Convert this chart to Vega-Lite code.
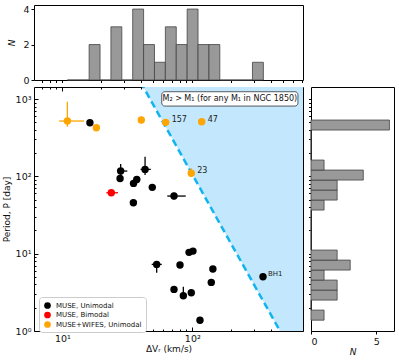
{
  "$schema": "https://vega.github.io/schema/vega-lite/v6.json",
  "padding": {"left": 1, "top": 3, "right": 0, "bottom": 0},
  "config": {
    "font": "DejaVu Sans",
    "view": {"stroke": "black", "strokeWidth": 1},
    "axis": {"grid": false, "domain": false, "tickColor": "black", "labelColor": "#111111", "titleColor": "#111111", "titleFontWeight": "normal", "labelFontSize": 9.5, "titleFontSize": 9}
  },
  "datasets": {
    "pts": [
      {"v": 16.3, "p": 493, "g": "MUSE, Unimodal"},
      {"v": 28.1, "p": 117, "g": "MUSE, Unimodal"},
      {"v": 27.8, "p": 94, "g": "MUSE, Unimodal"},
      {"v": 35.2, "p": 45.5, "g": "MUSE, Unimodal"},
      {"v": 35.3, "p": 81.1, "g": "MUSE, Unimodal"},
      {"v": 37.4, "p": 91, "g": "MUSE, Unimodal"},
      {"v": 43.3, "p": 123, "g": "MUSE, Unimodal"},
      {"v": 49.2, "p": 72, "g": "MUSE, Unimodal"},
      {"v": 72.3, "p": 55.6, "g": "MUSE, Unimodal"},
      {"v": 53.2, "p": 7.27, "g": "MUSE, Unimodal"},
      {"v": 80.4, "p": 7.13, "g": "MUSE, Unimodal"},
      {"v": 94.4, "p": 10.4, "g": "MUSE, Unimodal"},
      {"v": 101.2, "p": 10.8, "g": "MUSE, Unimodal"},
      {"v": 144, "p": 6.32, "g": "MUSE, Unimodal"},
      {"v": 140, "p": 4.25, "g": "MUSE, Unimodal"},
      {"v": 72.3, "p": 3.45, "g": "MUSE, Unimodal"},
      {"v": 85.3, "p": 2.85, "g": "MUSE, Unimodal"},
      {"v": 98.2, "p": 3.12, "g": "MUSE, Unimodal"},
      {"v": 114.6, "p": 1.38, "g": "MUSE, Unimodal"},
      {"v": 350, "p": 5.03, "g": "MUSE, Unimodal"},
      {"v": 23.8, "p": 61.4, "g": "MUSE, Bimodal"},
      {"v": 10.93, "p": 519, "g": "MUSE+WIFES, Unimodal"},
      {"v": 18.26, "p": 425, "g": "MUSE+WIFES, Unimodal"},
      {"v": 40.5, "p": 535, "g": "MUSE+WIFES, Unimodal"},
      {"v": 62.4, "p": 499, "g": "MUSE+WIFES, Unimodal"},
      {"v": 118, "p": 508, "g": "MUSE+WIFES, Unimodal"},
      {"v": 98.2, "p": 109.4, "g": "MUSE+WIFES, Unimodal"}
    ],
    "errs": [
      {"v": 28.1, "p": 117, "vlo": 26.5, "vhi": 31.6, "plo": 98.9, "phi": 144, "g": "MUSE, Unimodal"},
      {"v": 23.8, "p": 61.4, "vlo": 21.8, "vhi": 26.8, "plo": null, "phi": null, "g": "MUSE, Bimodal"},
      {"v": 43.3, "p": 123, "vlo": 40, "vhi": 47.9, "plo": 104, "phi": 179, "g": "MUSE, Unimodal"},
      {"v": 72.3, "p": 55.6, "vlo": 64.2, "vhi": 89, "plo": 50.3, "phi": 61.4, "g": "MUSE, Unimodal"},
      {"v": 53.2, "p": 7.27, "vlo": 48.7, "vhi": 58.2, "plo": 5.66, "phi": 7.85, "g": "MUSE, Unimodal"},
      {"v": 85.3, "p": 2.85, "vlo": null, "vhi": null, "plo": 2.77, "phi": 3.73, "g": "MUSE, Unimodal"},
      {"v": 10.93, "p": 519, "vlo": 9.44, "vhi": 14.7, "plo": 438, "phi": 923, "g": "MUSE+WIFES, Unimodal"},
      {"v": 98.2, "p": 109.4, "vlo": null, "vhi": null, "plo": 98, "phi": 127, "g": "MUSE+WIFES, Unimodal"}
    ],
    "labs": [
      {"v": 62.4, "p": 499, "label": "157"},
      {"v": 118, "p": 508, "label": "47"},
      {"v": 98.2, "p": 109.4, "label": "23"},
      {"v": 350, "p": 5.03, "label": "BH1"}
    ],
    "region": [
      {"v": 40, "p": 1653, "top": 2000},
      {"v": 500, "p": 0.846, "top": 2000},
      {"v": 800, "p": 0.846, "top": 2000}
    ],
    "edge": [
      {"v": 40, "p": 1653},
      {"v": 500, "p": 0.846}
    ],
    "box": [
      {"v1": 58.2, "v2": 650, "p1": 811, "p2": 1242, "vc": 194.5, "pc": 1000, "text": "M₂ > M₁ (for any M₁ in NGC 1850)"}
    ],
    "hx": [
      {"lo": 10.93, "hi": 13.25, "n": 0},
      {"lo": 13.25, "hi": 16.07, "n": 0},
      {"lo": 16.07, "hi": 19.5, "n": 2},
      {"lo": 19.5, "hi": 23.64, "n": 0},
      {"lo": 23.64, "hi": 28.68, "n": 3},
      {"lo": 28.68, "hi": 34.78, "n": 0},
      {"lo": 34.78, "hi": 42.19, "n": 4},
      {"lo": 42.19, "hi": 51.17, "n": 2},
      {"lo": 51.17, "hi": 62.05, "n": 1},
      {"lo": 62.05, "hi": 75.25, "n": 3},
      {"lo": 75.25, "hi": 91.27, "n": 2},
      {"lo": 91.27, "hi": 110.7, "n": 4},
      {"lo": 110.7, "hi": 134.3, "n": 2},
      {"lo": 134.3, "hi": 162.8, "n": 2},
      {"lo": 162.8, "hi": 197.5, "n": 0},
      {"lo": 197.5, "hi": 239.5, "n": 0},
      {"lo": 239.5, "hi": 290.4, "n": 0},
      {"lo": 290.4, "hi": 352.3, "n": 1}
    ],
    "hy": [
      {"lo": 1.38, "hi": 1.864, "n": 1},
      {"lo": 1.864, "hi": 2.51, "n": 0},
      {"lo": 2.51, "hi": 3.381, "n": 2},
      {"lo": 3.381, "hi": 4.555, "n": 2},
      {"lo": 4.555, "hi": 6.135, "n": 1},
      {"lo": 6.135, "hi": 8.263, "n": 3},
      {"lo": 8.263, "hi": 11.13, "n": 2},
      {"lo": 11.13, "hi": 14.99, "n": 0},
      {"lo": 14.99, "hi": 20.19, "n": 0},
      {"lo": 20.19, "hi": 27.2, "n": 0},
      {"lo": 27.2, "hi": 36.64, "n": 0},
      {"lo": 36.64, "hi": 49.34, "n": 1},
      {"lo": 49.34, "hi": 66.46, "n": 2},
      {"lo": 66.46, "hi": 89.53, "n": 2},
      {"lo": 89.53, "hi": 120.6, "n": 4},
      {"lo": 120.6, "hi": 162.4, "n": 1},
      {"lo": 162.4, "hi": 218.8, "n": 0},
      {"lo": 218.8, "hi": 294.7, "n": 0},
      {"lo": 294.7, "hi": 396.9, "n": 0},
      {"lo": 396.9, "hi": 534.6, "n": 6}
    ]
  },
  "spacing": 7,
  "bounds": "flush",
  "resolve": {"scale": {"color": "independent", "stroke": "independent"}, "legend": {"color": "independent", "stroke": "independent"}},
  "vconcat": [
    {
      "width": 269,
      "height": 75,
      "data": {"name": "hx"},
      "mark": {"type": "rect", "fill": "#999999", "stroke": "#444444", "strokeWidth": 0.8},
      "encoding": {
        "x": {"field": "lo", "type": "quantitative", "scale": {"type": "log", "domain": [6.05, 711], "nice": false},
          "axis": {"values": [7, 8, 9, 10, 20, 30, 40, 50, 60, 70, 80, 90, 100, 200, 300, 400, 500, 600, 700], "labels": false, "tickSize": 2.5, "title": null}},
        "x2": {"field": "hi"},
        "y": {"field": "n", "type": "quantitative", "scale": {"domain": [0, 4.23], "nice": false},
          "axis": {"values": [0, 2, 4], "tickSize": 3, "labelPadding": 2, "title": "N", "titleFontStyle": "italic", "titlePadding": 6}},
        "y2": {"datum": 0}
      }
    },
    {
      "spacing": 8,
      "bounds": "flush",
      "resolve": {"scale": {"color": "independent", "stroke": "independent"}, "legend": {"color": "independent", "stroke": "independent"}},
      "hconcat": [
        {
          "width": 269,
          "height": 244,
          "resolve": {"axis": {"x": "independent", "y": "independent"}},
          "layer": [
            {
              "data": {"name": "region"},
              "mark": {"type": "area", "color": "#c3e7fc", "clip": true},
              "encoding": {
                "x": {"field": "v", "type": "quantitative", "scale": {"type": "log", "domain": [6.05, 711], "nice": false},
                  "axis": {"orient": "bottom", "values": [10, 100], "labelExpr": "datum.value == 10 ? '10¹' : '10²'", "tickSize": -4, "labelPadding": 6, "title": "ΔVᵣ (km/s)", "titlePadding": 2}},
                "y": {"field": "p", "type": "quantitative", "scale": {"type": "log", "domain": [1, 1430], "nice": false},
                  "axis": {"orient": "left", "values": [1, 10, 100, 1000], "labelExpr": "datum.value == 1 ? '10⁰' : datum.value == 10 ? '10¹' : datum.value == 100 ? '10²' : '10³'", "tickSize": -4, "labelPadding": 7, "title": "Period, P [day]", "titlePadding": 4}},
                "y2": {"field": "top"}
              }
            },
            {
              "data": {"name": "edge"},
              "mark": {"type": "line", "color": "#11b5ee", "strokeWidth": 2.5, "strokeDash": [7, 4], "clip": true},
              "encoding": {
                "x": {"field": "v", "type": "quantitative",
                  "axis": {"orient": "bottom", "values": [7, 8, 9, 20, 30, 40, 50, 60, 70, 80, 90, 200, 300, 400, 500, 600, 700], "labels": false, "tickSize": -2, "title": null}},
                "y": {"field": "p", "type": "quantitative",
                  "axis": {"orient": "left", "values": [2, 3, 4, 5, 6, 7, 8, 9, 20, 30, 40, 50, 60, 70, 80, 90, 200, 300, 400, 500, 600, 700, 800, 900], "labels": false, "tickSize": -2, "title": null}}
              }
            },
            {
              "data": {"name": "box"},
              "mark": {"type": "rect", "fill": "white", "stroke": "#333333", "strokeWidth": 0.8, "cornerRadius": 3},
              "encoding": {
                "x": {"field": "v1", "type": "quantitative",
                  "axis": {"orient": "top", "values": [10, 100], "labels": false, "tickSize": -4, "title": null}},
                "x2": {"field": "v2"},
                "y": {"field": "p1", "type": "quantitative",
                  "axis": {"orient": "right", "values": [1, 10, 100, 1000], "labels": false, "tickSize": -4, "title": null}},
                "y2": {"field": "p2"}
              }
            },
            {
              "data": {"name": "box"},
              "mark": {"type": "text", "fontSize": 8, "align": "center", "baseline": "middle", "color": "#111111"},
              "encoding": {
                "x": {"field": "vc", "type": "quantitative",
                  "axis": {"orient": "top", "values": [7, 8, 9, 20, 30, 40, 50, 60, 70, 80, 90, 200, 300, 400, 500, 600, 700], "labels": false, "tickSize": -2, "title": null}},
                "y": {"field": "pc", "type": "quantitative",
                  "axis": {"orient": "right", "values": [2, 3, 4, 5, 6, 7, 8, 9, 20, 30, 40, 50, 60, 70, 80, 90, 200, 300, 400, 500, 600, 700, 800, 900], "labels": false, "tickSize": -2, "title": null}},
                "text": {"field": "text"}
              }
            },
            {
              "data": {"name": "errs"},
              "transform": [{"filter": "isValid(datum.vlo)"}],
              "mark": {"type": "rule", "strokeWidth": 1.3},
              "encoding": {
                "x": {"field": "vlo", "type": "quantitative", "axis": null},
                "x2": {"field": "vhi"},
                "y": {"field": "p", "type": "quantitative", "axis": null},
                "stroke": {"field": "g", "type": "nominal", "legend": null,
                  "scale": {"domain": ["MUSE, Unimodal", "MUSE, Bimodal", "MUSE+WIFES, Unimodal"], "range": ["black", "red", "orange"]}}
              }
            },
            {
              "data": {"name": "errs"},
              "transform": [{"filter": "isValid(datum.plo)"}],
              "mark": {"type": "rule", "strokeWidth": 1.3},
              "encoding": {
                "x": {"field": "v", "type": "quantitative", "axis": null},
                "y": {"field": "plo", "type": "quantitative", "axis": null},
                "y2": {"field": "phi"},
                "stroke": {"field": "g", "type": "nominal", "legend": null}
              }
            },
            {
              "data": {"name": "pts"},
              "mark": {"type": "circle", "size": 55, "opacity": 1},
              "encoding": {
                "x": {"field": "v", "type": "quantitative", "axis": null},
                "y": {"field": "p", "type": "quantitative", "axis": null},
                "fill": {"field": "g", "type": "nominal",
                  "scale": {"domain": ["MUSE, Unimodal", "MUSE, Bimodal", "MUSE+WIFES, Unimodal"], "range": ["black", "red", "orange"]},
                  "legend": {"orient": "none", "legendX": 5, "legendY": 292, "title": null, "fillColor": "white", "strokeColor": "#cccccc", "cornerRadius": 3, "padding": 4, "labelFontSize": 7, "symbolSize": 45, "symbolType": "circle", "rowPadding": 1.5, "labelColor": "#111111"}}
              }
            },
            {
              "data": {"name": "labs"},
              "transform": [{"filter": "datum.label != 'BH1'"}],
              "mark": {"type": "text", "fontSize": 8, "align": "left", "baseline": "middle", "dx": 6, "dy": -2, "color": "#222222"},
              "encoding": {
                "x": {"field": "v", "type": "quantitative", "axis": null},
                "y": {"field": "p", "type": "quantitative", "axis": null},
                "text": {"field": "label"}
              }
            },
            {
              "data": {"name": "labs"},
              "transform": [{"filter": "datum.label == 'BH1'"}],
              "mark": {"type": "text", "fontSize": 7, "align": "left", "baseline": "middle", "dx": 5, "dy": -2.5, "color": "#222222"},
              "encoding": {
                "x": {"field": "v", "type": "quantitative", "axis": null},
                "y": {"field": "p", "type": "quantitative", "axis": null},
                "text": {"field": "label"}
              }
            }
          ]
        },
        {
          "width": 83,
          "height": 244,
          "data": {"name": "hy"},
          "mark": {"type": "rect", "fill": "#999999", "stroke": "#444444", "strokeWidth": 0.8},
          "encoding": {
            "y": {"field": "lo", "type": "quantitative", "scale": {"type": "log", "domain": [1, 1430], "nice": false},
              "axis": {"values": [2, 3, 4, 5, 6, 7, 8, 9, 10, 20, 30, 40, 50, 60, 70, 80, 90, 100, 200, 300, 400, 500, 600, 700, 800, 900, 1000], "labels": false, "tickSize": 2.5, "title": null}},
            "y2": {"field": "hi"},
            "x": {"field": "n", "type": "quantitative", "scale": {"domain": [0, 6.35], "nice": false},
              "axis": {"values": [0, 5], "tickSize": 3, "labelPadding": 2, "title": "N", "titleFontStyle": "italic", "titlePadding": 2}},
            "x2": {"datum": 0}
          }
        }
      ]
    }
  ]
}
